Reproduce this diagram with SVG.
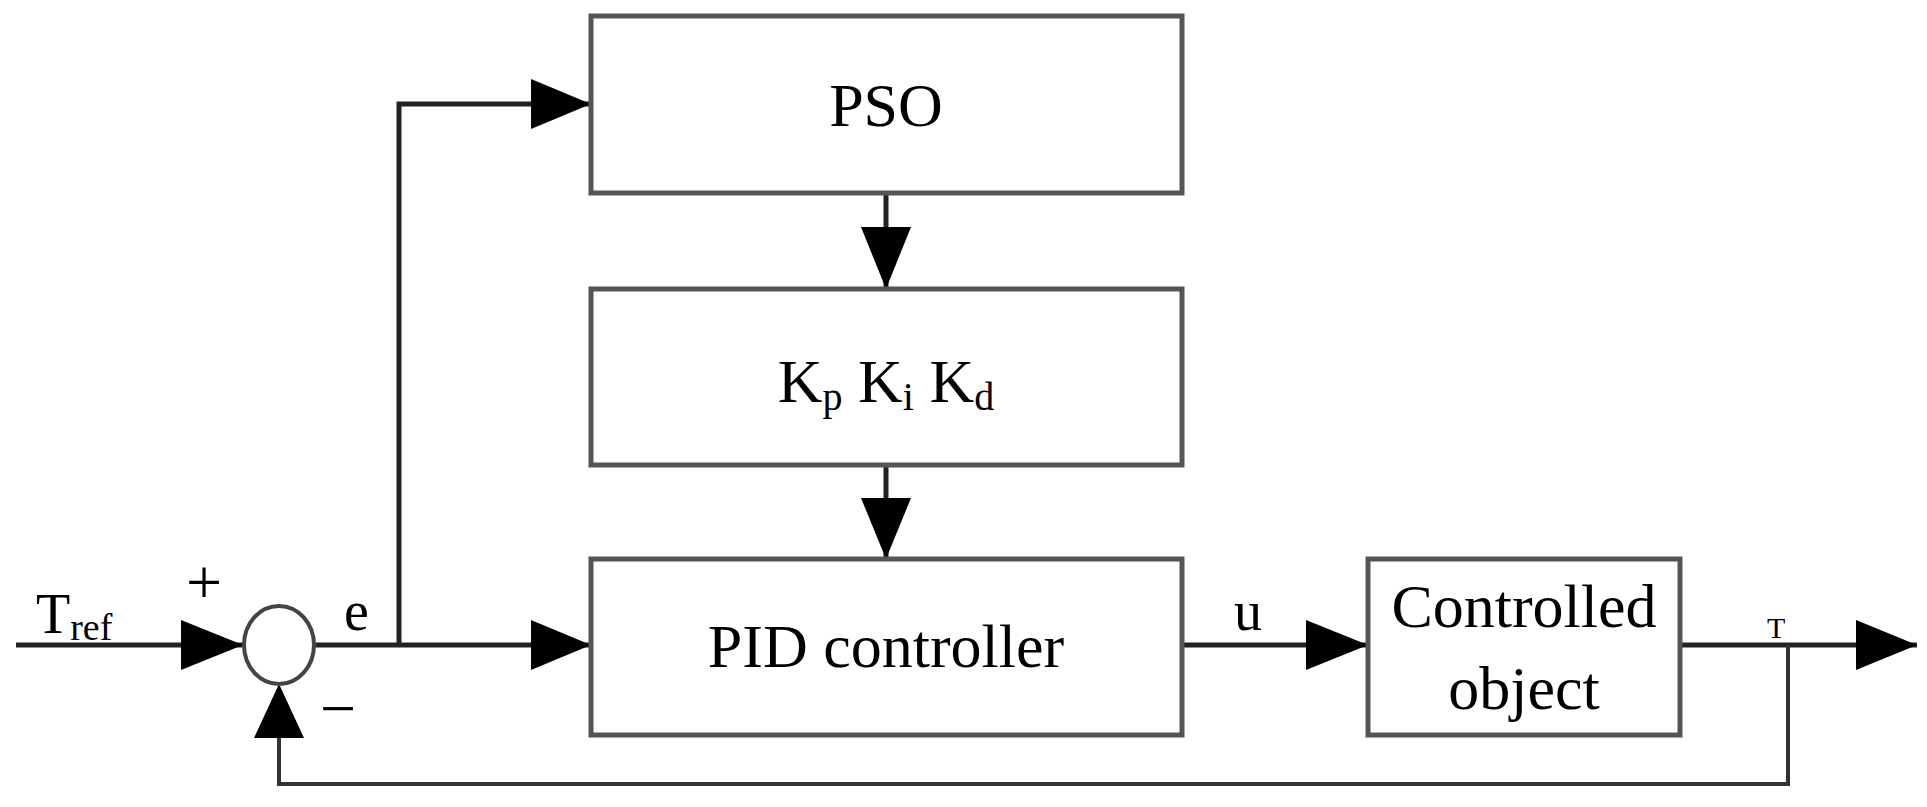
<svg xmlns="http://www.w3.org/2000/svg" width="1927" height="807" viewBox="0 0 1927 807">
<style>
.box{fill:#fff;stroke:#555;stroke-width:5}
.ln{fill:none;stroke:#222;stroke-width:5}
.fb{fill:none;stroke:#333;stroke-width:4}
.ah{fill:#000}
text{font-family:"Liberation Serif",serif;fill:#000}
.t{font-size:62px;text-anchor:middle}
</style>
<rect width="1927" height="807" fill="#fff"/>
<g id="connectors">
<path class="ln" d="M16 645H243"/>
<path class="ah" d="M181 620L243 645L181 670Z"/>
<path class="ln" d="M314 645H591"/>
<path class="ln" d="M399 645V104H591"/>
<path class="ah" d="M531 79L591 104L531 129Z"/>
<path class="ah" d="M531 620L591 645L531 670Z"/>
<path class="ln" d="M886 193V289"/>
<path class="ah" d="M861 227L886 289L911 227Z"/>
<path class="ln" d="M886 465V559"/>
<path class="ah" d="M861 498L886 559L911 498Z"/>
<path class="ln" d="M1182 645H1368"/>
<path class="ah" d="M1306 620L1368 645L1306 670Z"/>
<path class="ln" d="M1680 645H1917"/>
<path class="ah" d="M1856 620L1917 645L1856 670Z"/>
<path class="fb" d="M1788 645V784H279V688"/>
<path class="ah" d="M254 738L279 684L304 738Z"/>
</g>
<g id="sum"><ellipse cx="279" cy="645" rx="35" ry="39" fill="#fff" stroke="#444" stroke-width="4"/></g>
<g id="pso"><rect class="box" x="591" y="16" width="591" height="177"/><text class="t" x="886" y="126">PSO</text></g>
<g id="gains"><rect class="box" x="591" y="289" width="591" height="176"/><text class="t" x="886" y="402">K<tspan font-size="40" dy="8">p</tspan><tspan dy="-8"> K</tspan><tspan font-size="40" dy="8">i</tspan><tspan dy="-8"> K</tspan><tspan font-size="40" dy="8">d</tspan></text></g>
<g id="pid"><rect class="box" x="591" y="559" width="591" height="176"/><text class="t" x="886" y="667">PID controller</text></g>
<g id="plant"><rect class="box" x="1368" y="559" width="312" height="176"/><text class="t" x="1524" y="627">Controlled</text><text class="t" x="1524" y="709">object</text></g>
<g id="labels">
<text font-size="56" x="36" y="633">T<tspan font-size="38" dy="7">ref</tspan></text>
<text font-size="64" x="186" y="604">+</text>
<text font-size="64" x="320" y="730">−</text>
<text font-size="56" x="344" y="630">e</text>
<text font-size="56" x="1234" y="630">u</text>
<text font-size="30" x="1767" y="638">T</text>
</g>
</svg>
